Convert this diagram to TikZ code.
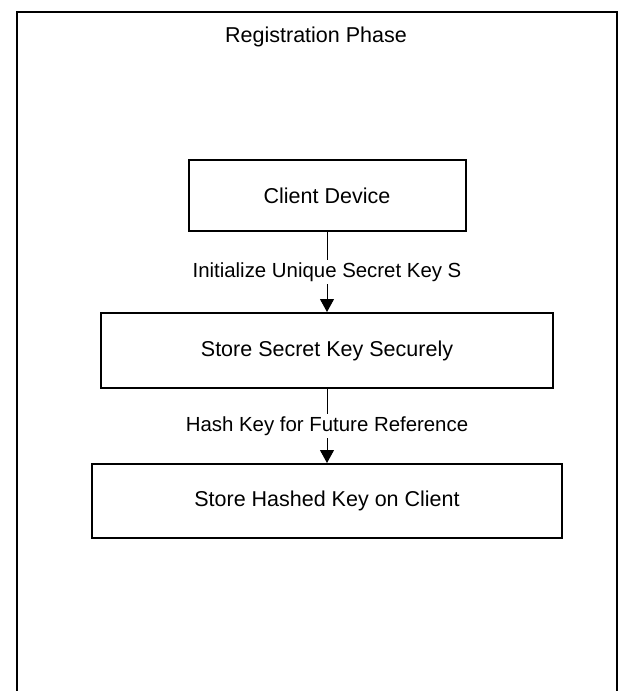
\documentclass[tikz,border=0pt]{standalone}
\usepackage{fontspec}
\setmainfont{Liberation Sans}
\usetikzlibrary{arrows.meta}
\begin{document}
\begin{tikzpicture}[x=1pt,y=-1pt,
  boxnode/.style={draw=black, line width=2pt, fill=white, minimum width=#1, inner sep=0pt, font=\fontsize{21.5}{24}\selectfont},
  lbl/.style={fill=white, inner sep=2pt, font=\fontsize{20.4}{23}\selectfont},
  arr/.style={draw=black, line width=1pt, -{Triangle[width=14pt,length=13pt]}}]
\useasboundingbox (0,0) rectangle (619,691);
\begin{scope}
\clip (0,0) rectangle (619,691);
\draw[line width=2.2pt] (17,700) -- (17,12) -- (617,12) -- (617,700);
\end{scope}
\node[font=\fontsize{21.5}{24}\selectfont] (title) at (316,37) {Registration Phase};
\node[boxnode=277pt, minimum height=71pt] (b1) at (327,195.5) {Client Device};
\node[boxnode=452pt, minimum height=75pt] (b2) at (327,350.5) {Store Secret Key Securely};
\node[boxnode=470pt, minimum height=74pt] (b3) at (327,501) {Store Hashed Key on Client};
\draw[arr] (b1.south) -- node[lbl] {Initialize Unique Secret Key S} (b2.north);
\draw[arr] (b2.south) -- node[lbl] {Hash Key for Future Reference} (b3.north);
\end{tikzpicture}
\end{document}
